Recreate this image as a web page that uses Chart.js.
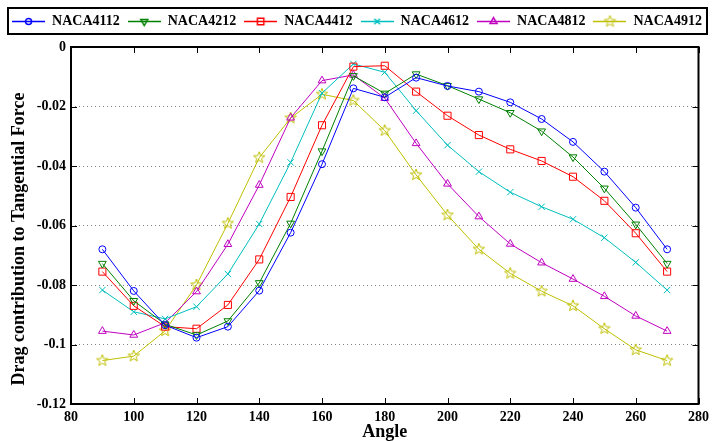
<!DOCTYPE html>
<html>
<head>
<meta charset="utf-8">
<script src="https://cdn.jsdelivr.net/npm/chart.js@4.4.1/dist/chart.umd.min.js"></script>
<style>
    html, body { margin: 0; padding: 0; background: #fff; }
    #wrap { width: 714px; height: 441px; }
</style>
</head>
<body>
<div id="wrap"><canvas id="chart1"></canvas></div>
<script>
// углы и значения
const angles = [90, 100, 110, 120, 130, 140, 150, 160, 170, 180, 190, 200, 210, 220, 230, 240, 250, 260, 270];
const names = ['NACA4112', 'NACA4212', 'NACA4412', 'NACA4612', 'NACA4812', 'NACA4912'];

const naca4112 = [-0.068, -0.082, -0.0935, -0.0977, -0.094, -0.0819, -0.0624, -0.0394, -0.0139, -0.0169, -0.0103, -0.0131, -0.015, -0.0186, -0.0242, -0.0319, -0.0419, -0.054, -0.068];
const naca4212 = [-0.0728, -0.0853, -0.0932, -0.0968, -0.0921, -0.0793, -0.0593, -0.035, -0.0097, -0.0156, -0.0091, -0.013, -0.0175, -0.0221, -0.0283, -0.037, -0.0475, -0.0596, -0.0728];
const naca4412 = [-0.0755, -0.087, -0.094, -0.0947, -0.0867, -0.0714, -0.0504, -0.0263, -0.0066, -0.0063, -0.015, -0.0231, -0.0296, -0.0344, -0.0383, -0.0436, -0.0517, -0.0626, -0.0755];
const naca4612 = [-0.0817, -0.089, -0.0914, -0.0873, -0.0763, -0.0595, -0.0388, -0.0155, -0.0057, -0.0085, -0.0214, -0.033, -0.0419, -0.0488, -0.0537, -0.0579, -0.0641, -0.0724, -0.0817];
const naca4812 = [-0.0955, -0.0968, -0.0927, -0.0822, -0.0663, -0.0464, -0.0238, -0.0113, -0.0094, -0.0172, -0.0324, -0.046, -0.057, -0.0662, -0.0725, -0.078, -0.0838, -0.0904, -0.0955];
const naca4912 = [-0.1054, -0.1039, -0.0954, -0.08, -0.0593, -0.0372, -0.0239, -0.0159, -0.018, -0.0281, -0.043, -0.0565, -0.068, -0.0761, -0.0821, -0.087, -0.0947, -0.1018, -0.1054];

const series = [naca4112, naca4212, naca4412, naca4612, naca4812, naca4912];
const colors = ['#0000ff', '#008000', '#ff0000', '#00bfbf', '#bf00bf', '#bfbf00'];

const font = 'Liberation Serif';

// пятиконечная звезда как в MATLAB
function starIcon(color, r) {
    const c = document.createElement('canvas');
    c.width = c.height = 2 * r + 2;
    const ctx = c.getContext('2d');
    ctx.strokeStyle = color;
    ctx.lineWidth = 1;
    ctx.beginPath();
    for (let i = 0; i < 10; i++) {
        const rr = i % 2 ? r * 0.42 : r;
        const a = -Math.PI / 2 + i * Math.PI / 5;
        const px = c.width / 2 + rr * Math.cos(a);
        const py = c.height / 2 + rr * Math.sin(a);
        if (i) ctx.lineTo(px, py); else ctx.moveTo(px, py);
    }
    ctx.closePath();
    ctx.stroke();
    return c;
}

const markers = [
    {pointStyle: 'circle', pointRadius: 3.5, pointRotation: 0},
    {pointStyle: 'triangle', pointRadius: 4.5, pointRotation: 180},
    {pointStyle: 'rect', pointRadius: 5, pointRotation: 0},
    {pointStyle: 'crossRot', pointRadius: 4.5, pointRotation: 0},
    {pointStyle: 'triangle', pointRadius: 4.5, pointRotation: 0},
    {pointStyle: starIcon(colors[5], 6), pointRadius: 5, pointRotation: 0}
];

// значок легенды: линия с маркером посередине
function legendIcon(i) {
    const c = document.createElement('canvas');
    c.width = 33;
    c.height = 14;
    const ctx = c.getContext('2d');
    ctx.strokeStyle = colors[i];
    ctx.fillStyle = 'rgba(0,0,0,0)';
    ctx.lineWidth = 1.5;
    ctx.beginPath();
    ctx.moveTo(0, 7.5);
    ctx.lineTo(33, 7.5);
    ctx.stroke();
    const m = markers[i];
    if (typeof m.pointStyle === 'string') {
        Chart.helpers.drawPoint(ctx, {pointStyle: m.pointStyle, radius: m.pointRadius - 0.5, rotation: m.pointRotation, borderWidth: 1.5}, 16.5, 7.5);
    } else {
        ctx.drawImage(m.pointStyle, 16.5 - m.pointStyle.width / 2, 7.5 - m.pointStyle.height / 2);
    }
    return c;
}
const legendIcons = names.map((n, i) => legendIcon(i));

const frame = {
    id: 'frame',
    beforeLayout(chart) {
        const lg = chart.legend;
        if (lg && !lg._patched) {
            const fit = lg.fit;
            lg.fit = function () {
                fit.call(this);
                this.height += 9;
            };
            lg._patched = true;
        }
    },
    afterDraw(chart) {
        const {ctx, chartArea: a, scales: {x, y}} = chart;
        ctx.save();
        ctx.strokeStyle = '#000';
        ctx.lineWidth = 1;
        ctx.beginPath();
        x.ticks.forEach(t => {
            const px = Math.round(x.getPixelForValue(t.value)) + 0.5;
            ctx.moveTo(px, a.bottom);
            ctx.lineTo(px, a.bottom - 6);
            ctx.moveTo(px, a.top);
            ctx.lineTo(px, a.top + 6);
        });
        y.ticks.forEach(t => {
            const py = Math.round(y.getPixelForValue(t.value)) + 0.5;
            ctx.moveTo(a.left, py);
            ctx.lineTo(a.left + 6, py);
            ctx.moveTo(a.right, py);
            ctx.lineTo(a.right - 6, py);
        });
        ctx.stroke();
        ctx.lineWidth = 2;
        ctx.strokeRect(a.left, a.top, a.right - a.left, a.bottom - a.top);

        const hb = chart.legend.legendHitBoxes;
        if (hb && hb.length) {
            const top = hb[0].top - 6;
            const bottom = hb[0].top + hb[0].height + 6;
            ctx.strokeRect(8, top, chart.width - 15, bottom - top);
        }
        ctx.restore();
    }
};

new Chart(document.getElementById('chart1'), {
    type: 'line',
    data: {
        datasets: names.map((name, i) => ({
            label: name,
            data: angles.map((a, k) => ({x: a, y: series[i][k]})),
            borderColor: colors[i],
            backgroundColor: 'rgba(0,0,0,0)',
            borderWidth: 1,
            pointBorderColor: colors[i],
            pointBackgroundColor: 'rgba(0,0,0,0)',
            pointBorderWidth: 1,
            pointStyle: markers[i].pointStyle,
            pointRadius: markers[i].pointRadius,
            pointRotation: markers[i].pointRotation,
            tension: 0
        }))
    },
    options: {
        responsive: true,
        maintainAspectRatio: false,
        animation: false,
        layout: {
            padding: {top: 6, left: 0, right: 0, bottom: 0}
        },
        plugins: {
            legend: {
                position: 'top',
                labels: {
                    usePointStyle: true,
                    pointStyleWidth: 33,
                    padding: 8,
                    color: '#000',
                    font: {family: font, size: 14, weight: 'bold'},
                    generateLabels: chart => Chart.defaults.plugins.legend.labels.generateLabels(chart)
                        .map((l, i) => ({...l, pointStyle: legendIcons[i], rotation: 0}))
                }
            },
            tooltip: {enabled: false}
        },
        scales: {
            x: {
                type: 'linear',
                min: 80,
                max: 280,
                afterFit: s => { s.height = 37; },
                ticks: {
                    stepSize: 20,
                    padding: 5,
                    maxRotation: 0,
                    color: '#000',
                    font: {family: font, size: 14, weight: 'bold'}
                },
                grid: {display: false, drawTicks: false},
                border: {display: false},
                title: {
                    display: true,
                    text: 'Angle',
                    color: '#000',
                    padding: 0,
                    font: {family: font, size: 18, weight: 'bold', lineHeight: 1}
                }
            },
            y: {
                min: -0.12,
                max: 0,
                afterFit: s => { s.width = 71; },
                ticks: {
                    stepSize: 0.02,
                    padding: 5,
                    color: '#000',
                    font: {family: font, size: 14, weight: 'bold'},
                    callback: v => v === 0 ? '0' : String(+v.toFixed(2))
                },
                grid: {color: '#808080', lineWidth: 1, drawTicks: false},
                border: {display: false, dash: [1, 3]},
                title: {
                    display: true,
                    // пробелы в конце сдвигают подпись вниз, как в оригинале
                    text: 'Drag contribution to Tangential Force      ',
                    color: '#000',
                    padding: {top: 10, bottom: 0},
                    font: {family: font, size: 18, weight: 'bold', lineHeight: 1}
                }
            }
        }
    },
    plugins: [frame]
});
</script>
</body>
</html>
